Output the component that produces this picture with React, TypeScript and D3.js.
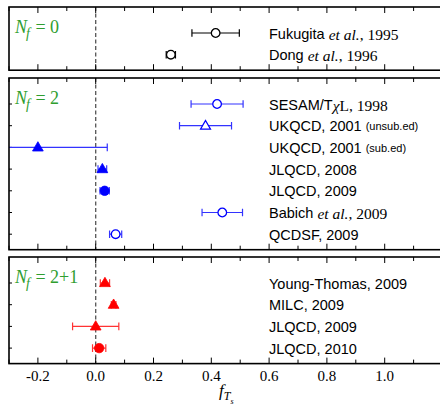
import * as d3 from "d3";
import React from "react";

// N_f = 0
const nf0Labels = ["Fukugita et al., 1995", "Dong et al., 1996"];
const nf0Values = [0.415, 0.26];
const nf0Errors = [0.082, 0.016];
const nf0Markers = ["circle-open", "circle-open"];

// N_f = 2
const nf2Labels = [
  "SESAM/TχL, 1998",
  "UKQCD, 2001",
  "UKQCD, 2001",
  "JLQCD, 2008",
  "JLQCD, 2009",
  "Babich et al., 2009",
  "QCDSF, 2009",
];
const nf2Notes = ["", "(unsub.ed)", "(sub.ed)", "", "", "", ""];
const nf2Values = [0.42, 0.38, -0.2, 0.023, 0.031, 0.438, 0.069];
const nf2Errors = [0.09, 0.09, 0.24, 0.015, 0.016, 0.07, 0.021];
const nf2Markers = [
  "circle-open",
  "triangle-open",
  "triangle",
  "triangle",
  "circle",
  "circle-open",
  "circle-open",
];

// N_f = 2+1
const nf21Labels = ["Young-Thomas, 2009", "MILC, 2009", "JLQCD, 2009", "JLQCD, 2010"];
const nf21Values = [0.032, 0.062, 0.0, 0.012];
const nf21Errors = [0.016, 0.008, 0.08, 0.023];
const nf21Markers = ["triangle", "triangle", "triangle", "circle"];

const xTicks = [-0.2, 0.0, 0.2, 0.4, 0.6, 0.8, 1.0];
const xMinor = d3.range(-0.3, 1.21, 0.1).map((v) => Math.round(v * 10) / 10);

const panels = [
  { nf: "0", labels: nf0Labels, notes: nf0Labels.map(() => ""), values: nf0Values, errors: nf0Errors, markers: nf0Markers, color: "#000000", bar: "#000000", top: 7, yTicks: false },
  { nf: "2", labels: nf2Labels, notes: nf2Notes, values: nf2Values, errors: nf2Errors, markers: nf2Markers, color: "#0000ff", bar: "#3333ff", top: 78, yTicks: true },
  { nf: "2+1", labels: nf21Labels, notes: nf21Labels.map(() => ""), values: nf21Values, errors: nf21Errors, markers: nf21Markers, color: "#ff0000", bar: "#ff3333", top: 257, yTicks: true },
];

const W = 440;
const H = 406;
const left = 9;
const rowStart = 26;
const rowStep = 21.7;
const bottomPad = 15.5;
const sans = "'Liberation Sans', Arial, sans-serif";
const serif = "'Liberation Serif', 'Times New Roman', serif";
const green = "#2f9e2f";

const x = d3.scaleLinear().domain([-0.3, 1.2]).range([left, left + 1.5 * 289]);

function Label({ text, note, xPos, y }: { text: string; note: string; xPos: number; y: number }) {
  const m = text.match(/^(.*?) et al\.(,.*)$/);
  if (m) {
    return (
      <text x={xPos} y={y} fontSize={14.5} fontFamily={sans} dominantBaseline="central">
        <tspan>{m[1] + " "}</tspan>
        <tspan fontFamily={serif} fontStyle="italic" fontSize={15.5}>et al.</tspan>
        <tspan fontFamily={serif} fontSize={15.5}>{m[2]}</tspan>
      </text>
    );
  }
  const c = text.indexOf("χ");
  if (c >= 0) {
    return (
      <text x={xPos} y={y} fontSize={14.5} fontFamily={sans} dominantBaseline="central">
        <tspan>{text.slice(0, c)}</tspan>
        <tspan fontFamily={serif} fontSize={15.5} fontStyle="italic">χ</tspan>
        <tspan fontFamily={serif} fontSize={15.5}>{text.slice(c + 1)}</tspan>
      </text>
    );
  }
  return (
    <text x={xPos} y={y} fontSize={14.5} fontFamily={sans} dominantBaseline="central">
      <tspan>{text}</tspan>
      {note ? <tspan fontSize={11} dx={4}>{note}</tspan> : null}
    </text>
  );
}

function Marker({ kind, cx, cy, color }: { kind: string; cx: number; cy: number; color: string }) {
  const open = kind.endsWith("-open");
  const isTri = kind.startsWith("triangle");
  const path = isTri
    ? d3.symbol(d3.symbolTriangle, open ? 42 : 50)()
    : d3.symbol(d3.symbolCircle, open ? 58 : 70)();
  return (
    <path
      d={path || ""}
      transform={`translate(${cx},${cy + (isTri ? 0.5 : 0)})`}
      fill={open ? "#ffffff" : color}
      stroke={color}
      strokeWidth={open ? 1.3 : 0.8}
    />
  );
}

export default function App() {
  const [x0, x1] = x.range();
  return (
    <svg
      width={W}
      height={H}
      style={{ position: "absolute", left: 0, top: 0, background: "#ffffff" }}
    >
      <defs>
        {panels.map((p, pi) => {
          const h = rowStart + (p.labels.length - 1) * rowStep + bottomPad;
          return (
            <clipPath id={`clip${pi}`} key={pi}>
              <rect x={x0} y={p.top} width={x1 - x0} height={h} />
            </clipPath>
          );
        })}
      </defs>
      {panels.map((p, pi) => {
        const n = p.labels.length;
        const h = rowStart + (n - 1) * rowStep + bottomPad;
        const y = d3.scaleLinear().domain([0, n - 1]).range([p.top + rowStart, p.top + rowStart + (n - 1) * rowStep]);
        const bottom = p.top + h;
        return (
          <g key={pi}>
            {/* dashed zero line */}
            <line x1={x(0)} x2={x(0)} y1={p.top} y2={bottom} stroke="#555" strokeWidth={1.3} strokeDasharray="4,2.5" />
            {/* ticks */}
            {xMinor.map((t, i) => {
              const major = xTicks.some((v) => Math.abs(v - t) < 1e-6) || Math.abs(t - 1.2) < 1e-6;
              const len = major ? 6 : 4;
              return (
                <g key={i} stroke="#000" strokeWidth={1}>
                  <line x1={x(t)} x2={x(t)} y1={p.top} y2={p.top + len} />
                  <line x1={x(t)} x2={x(t)} y1={bottom} y2={bottom - len} />
                </g>
              );
            })}
            {p.yTicks &&
              p.labels.map((_, i) => (
                <line key={i} x1={x0} x2={x0 + 3} y1={y(i)} y2={y(i)} stroke="#000" strokeWidth={1} />
              ))}
            {/* error bars */}
            <g clipPath={`url(#clip${pi})`}>
              {p.values.map((v, i) => {
                const lo = x(v - p.errors[i]);
                const hi = x(v + p.errors[i]);
                return (
                  <g key={i} stroke={p.bar} strokeWidth={1.2}>
                    <line x1={lo} x2={hi} y1={y(i)} y2={y(i)} />
                    <line x1={lo} x2={lo} y1={y(i) - 3.8} y2={y(i) + 3.8} />
                    <line x1={hi} x2={hi} y1={y(i) - 3.8} y2={y(i) + 3.8} />
                  </g>
                );
              })}
              {p.values.map((v, i) => (
                <Marker key={i} kind={p.markers[i]} cx={x(v)} cy={y(i)} color={p.color} />
              ))}
            </g>
            {/* labels */}
            {p.labels.map((l, i) => (
              <Label key={i} text={l} note={p.notes[i]} xPos={269} y={y(i) + 0.5} />
            ))}
            {/* N_f */}
            <text x={15} y={p.top + 26} fill={green} fontFamily={serif} fontSize={18}>
              <tspan fontStyle="italic">N</tspan>
              <tspan fontStyle="italic" fontSize={14} dy={5} dx={-1}>f</tspan>
              <tspan dy={-5} dx={1}>{" = " + p.nf}</tspan>
            </text>
            {/* frame */}
            <rect x={x0} y={p.top} width={x1 - x0} height={h} fill="none" stroke="#000" strokeWidth={1.6} />
          </g>
        );
      })}
      {/* tick labels */}
      {xTicks.map((t, i) => (
        <text key={i} x={x(t)} y={381} textAnchor="middle" fontFamily={serif} fontSize={15}>
          {d3.format(".1f")(t).replace("−", "-")}
        </text>
      ))}
      <text x={219} y={396} fontFamily={serif} fontSize={17} fontStyle="italic">
        <tspan>f</tspan>
        <tspan fontSize={12} dy={4}>T</tspan>
        <tspan fontSize={8} dy={4}>s</tspan>
      </text>
    </svg>
  );
}
